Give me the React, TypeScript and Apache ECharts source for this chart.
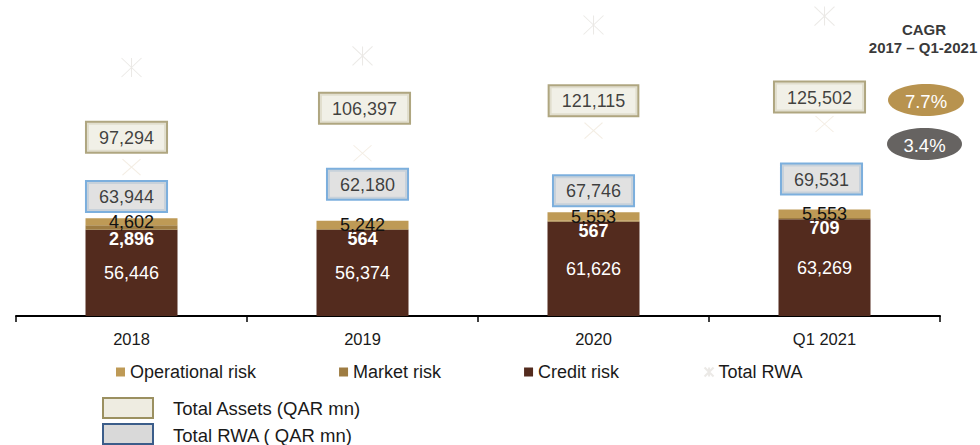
import React, { useEffect, useRef } from "react";
import * as echarts from "echarts";

const categories = ["2018", "2019", "2020", "Q1 2021"];
const creditRisk = [56446, 56374, 61626, 63269];
const marketRisk = [2896, 564, 567, 709];
const operationalRisk = [4602, 5242, 5553, 5553];
const totalRWA = [63944, 62180, 67746, 69531];
const totalAssets = [97294, 106397, 121115, 125502];
const totalRWAMarker = [162400, 170000, 190200, 196000];
const cagrAssets = "7.7%";
const cagrRWA = "3.4%";

// label placement tweaks (layout only)
const rwaLabelDistance = [7, 22, 7, 16];
const rwaLabelShift = [-5, 5, 0, -3];
const assetLabelDistance = [5, 20, 5, 2];
const assetLabelShift = [-5, 2, 0, -5];

const FONT = "'Liberation Sans', Arial, sans-serif";
const fmt = (v: number) => v.toLocaleString("en-US");

const ASTERISK = "path://M0,0L20,20M20,0L0,20M10,0L10,20";
const CROSS = "path://M0,0L20,20M20,0L0,20";

export default function App() {
  const ref = useRef<HTMLDivElement>(null);
  useEffect(() => {
    if (!ref.current) return;
    const chart = echarts.init(ref.current, undefined, { renderer: "svg" });
    const option: any = {
      animation: false,
      textStyle: { fontFamily: FONT },
      grid: { left: 16, right: 40, top: 10, bottom: 129 },
      xAxis: {
        type: "category",
        data: categories,
        boundaryGap: true,
        axisLine: { lineStyle: { color: "#000", width: 2 } },
        axisTick: { show: true, length: 6, lineStyle: { color: "#000", width: 1.5 } },
        axisLabel: { fontSize: 16.5, color: "#1a1a1a", margin: 14, fontFamily: FONT },
      },
      yAxis: {
        type: "value",
        min: 0,
        max: 200000,
        show: false,
        splitLine: { show: false },
      },
      legend: {
        left: 116,
        top: 363,
        padding: 0,
        itemWidth: 9,
        itemHeight: 9,
        itemGap: 83,
        data: [
          { name: "Operational risk", icon: "rect" },
          { name: "Market risk", icon: "rect" },
          { name: "Credit risk", icon: "rect" },
          { name: "Total RWA" },
        ],
        textStyle: { fontSize: 18, color: "#1a1a1a", fontFamily: FONT },
      },
      series: [
        {
          name: "Credit risk",
          type: "bar",
          stack: "rwa",
          barWidth: 92,
          data: creditRisk,
          itemStyle: { color: "#532B1E" },
          label: {
            show: true,
            position: "inside",
            color: "#fff",
            fontSize: 18,
            fontFamily: FONT,
            formatter: (p: any) => fmt(p.value),
          },
        },
        {
          name: "Market risk",
          type: "bar",
          stack: "rwa",
          barWidth: 92,
          data: marketRisk,
          itemStyle: { color: "#9E7C42" },
          label: {
            show: true,
            position: "bottom",
            distance: 0,
            color: "#fff",
            fontWeight: "bold",
            fontSize: 18,
            fontFamily: FONT,
            formatter: (p: any) => fmt(p.value),
          },
        },
        {
          name: "Operational risk",
          type: "bar",
          stack: "rwa",
          barWidth: 92,
          data: operationalRisk,
          itemStyle: { color: "#BE9A56" },
          label: {
            show: true,
            position: "inside",
            color: "#111",
            fontSize: 18,
            fontFamily: FONT,
            formatter: (p: any) => fmt(p.value),
          },
        },
        {
          name: "Total RWA (QAR mn)",
          type: "scatter",
          symbol: "circle",
          symbolSize: 0.1,
          itemStyle: { color: "rgba(0,0,0,0)" },
          z: 5,
          data: totalRWA.map((v, i) => ({
            value: v,
            label: { distance: rwaLabelDistance[i], offset: [rwaLabelShift[i], 0] },
          })),
          label: {
            show: true,
            position: "top",
            color: "#111",
            fontSize: 18,
            lineHeight: 18,
            fontFamily: FONT,
            backgroundColor: "#D9D9D9",
            borderColor: "#5B9BD5",
            borderWidth: 2,
            padding: [6, 12, 5, 12],
            formatter: (p: any) => fmt(p.value),
          },
        },
        {
          name: "Total Assets",
          type: "scatter",
          symbol: CROSS,
          symbolSize: [18, 16],
          itemStyle: { color: "none", borderColor: "#F0E8DC", borderWidth: 1 },
          z: 4,
          data: totalAssets.map((v, i) => ({
            value: v,
            label: { distance: assetLabelDistance[i], offset: [assetLabelShift[i], 0] },
          })),
          label: {
            show: true,
            position: "top",
            color: "#111",
            fontSize: 18,
            lineHeight: 18,
            fontFamily: FONT,
            backgroundColor: "#EEECE1",
            borderColor: "#9B9060",
            borderWidth: 2,
            padding: [6, 12, 5, 12],
            formatter: (p: any) => fmt(p.value),
          },
        },
        {
          name: "Total RWA",
          type: "scatter",
          symbol: ASTERISK,
          symbolSize: [20, 19],
          itemStyle: { color: "none", borderColor: "#E6E3E0", borderWidth: 1 },
          data: totalRWAMarker,
        },
      ],
      graphic: [
        {
          type: "text",
          x: 924,
          y: 29,
          style: {
            text: "CAGR",
            fill: "#3a3a3a",
            font: `bold 15px ${FONT}`,
            textAlign: "center",
            textVerticalAlign: "middle",
          },
        },
        {
          type: "text",
          x: 923,
          y: 47,
          style: {
            text: "2017 \u2013 Q1-2021",
            fill: "#3a3a3a",
            font: `bold 15px ${FONT}`,
            textAlign: "center",
            textVerticalAlign: "middle",
          },
        },
        {
          type: "ellipse",
          shape: { cx: 926, cy: 100, rx: 38, ry: 16 },
          style: { fill: "#B8934F" },
        },
        {
          type: "text",
          x: 926,
          y: 101,
          style: {
            text: cagrAssets,
            fill: "#fff",
            font: `18.5px ${FONT}`,
            textAlign: "center",
            textVerticalAlign: "middle",
          },
        },
        {
          type: "ellipse",
          shape: { cx: 924.5, cy: 144, rx: 37.5, ry: 16 },
          style: { fill: "#666361" },
        },
        {
          type: "text",
          x: 924.5,
          y: 145,
          style: {
            text: cagrRWA,
            fill: "#fff",
            font: `18.5px ${FONT}`,
            textAlign: "center",
            textVerticalAlign: "middle",
          },
        },
        {
          type: "rect",
          shape: { x: 103, y: 398, width: 50, height: 20 },
          style: { fill: "#EEECE1", stroke: "#9B9060", lineWidth: 2 },
        },
        {
          type: "text",
          x: 173,
          y: 408,
          style: {
            text: "Total Assets (QAR mn)",
            fill: "#1a1a1a",
            font: `18.5px ${FONT}`,
            textVerticalAlign: "middle",
          },
        },
        {
          type: "rect",
          shape: { x: 103, y: 424, width: 50, height: 20 },
          style: { fill: "#D9D9D9", stroke: "#3B5D8A", lineWidth: 2 },
        },
        {
          type: "text",
          x: 173,
          y: 435,
          style: {
            text: "Total RWA ( QAR mn)",
            fill: "#1a1a1a",
            font: `18.5px ${FONT}`,
            textVerticalAlign: "middle",
          },
        },
      ],
    };
    chart.setOption(option);
    return () => chart.dispose();
  }, []);
  return (
    <div
      ref={ref}
      style={{ position: "absolute", left: 0, top: 0, width: 980, height: 445, background: "#fff" }}
    />
  );
}
